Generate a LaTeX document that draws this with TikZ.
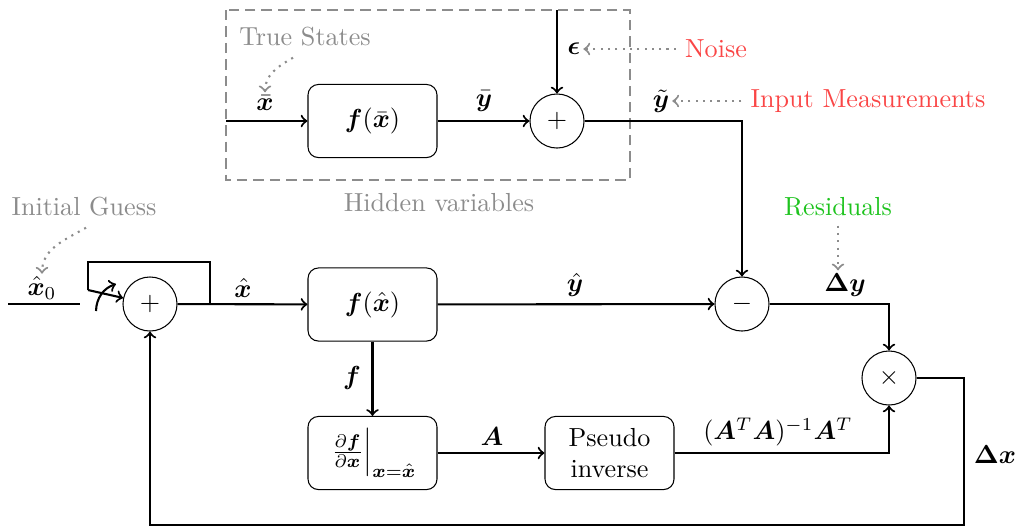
\documentclass[tikz,border=0pt]{standalone}
\usepackage{amsmath,bm}
\definecolor{notegray}{RGB}{140,140,140}
\definecolor{notered}{RGB}{250,70,70}
\definecolor{notegreen}{RGB}{30,195,30}
\begin{document}
\begin{tikzpicture}[x=0.383pt,y=-0.383pt,
  blk/.style={draw,rounded corners=4pt,minimum width=49.4pt,minimum height=28pt,inner sep=0pt,align=center,thin},
  sumnode/.style={draw,circle,minimum size=20.7pt,inner sep=0pt},
  conn/.style={thick,->},
  wire/.style={thick},
  note/.style={notegray,dotted,thick,->},
  lbl/.style={inner sep=1pt}]
\useasboundingbox (0,0) rectangle (1017,528);
% hidden variables box
\draw[notegray,line width=1.1pt,dash pattern=on 4pt off 2.3pt] (226,10) rectangle (630,180);
\node[notegray] (hidden) at (439,203) {Hidden variables};
% top row
\node[blk] (fbar) at (372.5,121) {$\bm f(\bar{\bm x})$};
\node[sumnode] (s1) at (557,121) {$+$};
\coordinate (xin) at (226,121);
\coordinate (epsin) at (557,10);
\draw[conn] (xin) -- (fbar);
\draw[conn] (fbar) -- (s1);
\draw[conn] (epsin) -- (s1);
\node[lbl] (xbarl) at (265,103) {$\bar{\bm x}$};
\node[lbl] (ybarl) at (484,101) {$\bar{\bm y}$};
\node[lbl] (epsl) at (574,49) {$\bm\epsilon$};
\node[lbl] (ytl) at (661,101) {$\tilde{\bm y}$};
\node[notegray] (true) at (305,37) {True States};
\node[notered] (noise) at (716,49) {Noise};
\node[notered] (meas) at (868,101) {Input Measurements};
\draw[note] (true.south) ++(-12,2) to[out=210,in=90] (xbarl.north);
\draw[note] (noise.west) -- (epsl.east);
\draw[note] (meas.west) -- (ytl.east);
% middle row
\node[sumnode] (p) at (150,304) {$+$};
\node[blk] (fhat) at (372.5,304.5) {$\bm f(\hat{\bm x})$};
\node[sumnode] (m) at (742,304) {$-$};
\node[sumnode] (t) at (889,378) {$\times$};
\coordinate (in0) at (8,304);
\coordinate (in1) at (80,304);
\coordinate (la) at (210,304);
\coordinate (lb) at (210,262);
\coordinate (lc) at (88,262);
\coordinate (ld) at (88,290);
\draw[wire] (in0) -- (in1);
\draw[wire] (la) -- (lb) -- (lc) -- (ld);
\draw[conn] (ld) -- (p);
\draw[thick,->] (96,311) to[bend left=35] (116,284);
\draw[conn] (p) -- (fhat);
\draw[conn] (fhat) -- (m);
\draw[conn] (s1.east) -| (m.north);
\draw[conn] (m.east) -| (t.north);
\node[lbl] (x0l) at (42,288) {$\hat{\bm x}_0$};
\node[lbl] (xhl) at (243,288) {$\hat{\bm x}$};
\node[lbl] (yhl) at (575,285) {$\hat{\bm y}$};
\node[lbl] (dyl) at (845,285) {$\bm{\Delta y}$};
\node[notegray] (guess) at (84,207) {Initial Guess};
\node[notegreen] (resid) at (838,207) {Residuals};
\draw[note] (guess.south) ++(2,2) to[out=210,in=90] (x0l.north);
\draw[note] (resid.south) -- (dyl.north -| resid.south);
% bottom row
\node[blk] (jac) at (372.5,453) {$\left.\frac{\partial \bm f}{\partial \bm x}\right|_{\bm x=\hat{\bm x}}$};
\node[blk] (pinv) at (609.5,453) {Pseudo\\inverse};
\draw[conn] (fhat) -- (jac);
\draw[conn] (jac) -- (pinv);
\draw[conn] (pinv.east) -| (t.south);
\coordinate (c1) at (964,525);
\draw[conn] (t.east) -| (c1) -| (p.south);
\node[lbl] (fl) at (352,378) {$\bm f$};
\node[lbl] (al) at (492,437) {$\bm A$};
\node[lbl] (pil) at (778,432) {$(\bm A^T\bm A)^{-1}\bm A^T$};
\node[lbl] (dxl) at (995,455) {$\bm{\Delta x}$};
\end{tikzpicture}
\end{document}
